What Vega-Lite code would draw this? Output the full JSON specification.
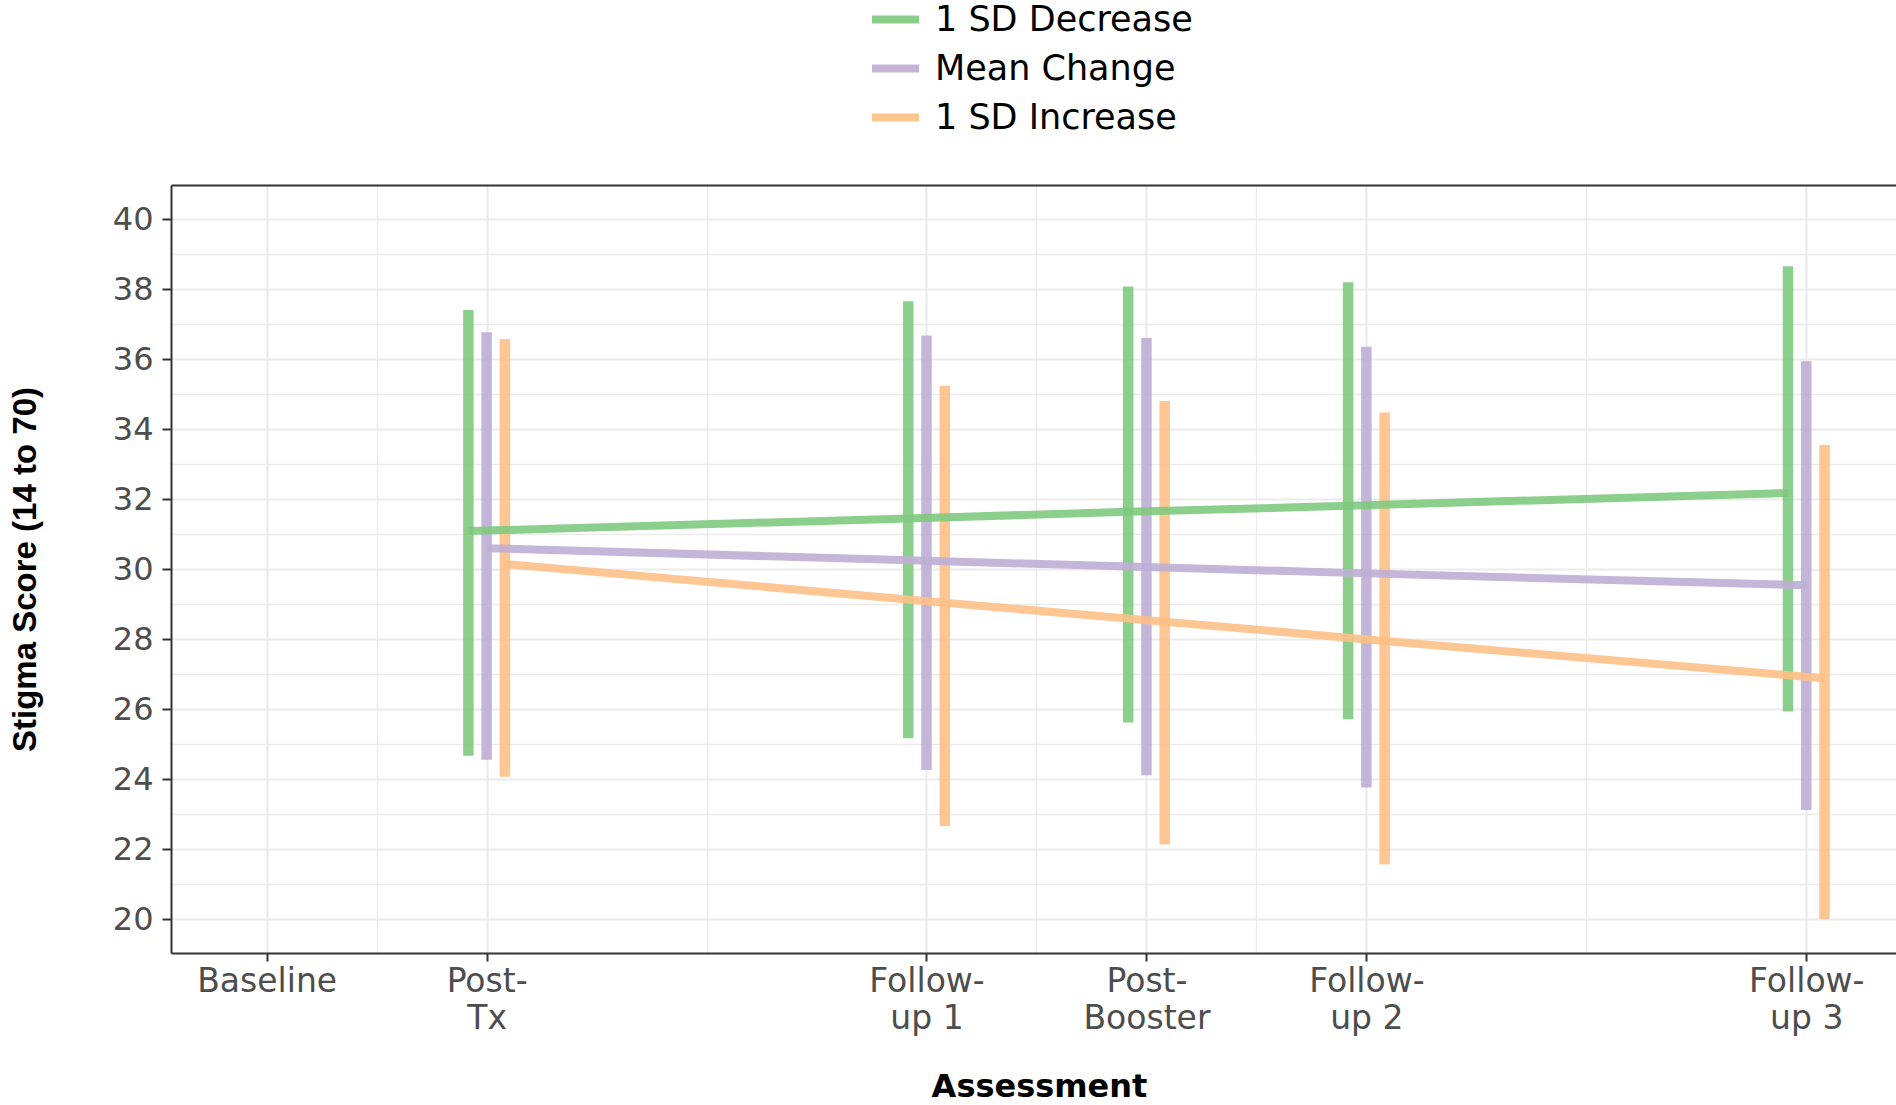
{
  "$schema": "https://vega.github.io/schema/vega-lite/v6.json",
  "width": 1725,
  "height": 768,
  "autosize": {"type": "none"},
  "padding": {"left": 171, "top": 185, "right": 0, "bottom": 152},
  "background": "white",
  "config": {"view": {"stroke": null}, "font": "DejaVu Sans"},
  "data": {"values": [
    {"time": 1, "group": "1 SD Decrease", "est": 31.09, "lo": 24.67, "hi": 37.41},
    {"time": 1, "group": "Mean Change", "est": 30.6, "lo": 24.55, "hi": 36.77},
    {"time": 1, "group": "1 SD Increase", "est": 30.15, "lo": 24.07, "hi": 36.58},
    {"time": 3, "group": "1 SD Decrease", "est": 31.45, "lo": 25.17, "hi": 37.66},
    {"time": 3, "group": "Mean Change", "est": 30.24, "lo": 24.26, "hi": 36.68},
    {"time": 3, "group": "1 SD Increase", "est": 29.04, "lo": 22.66, "hi": 35.24},
    {"time": 4, "group": "1 SD Decrease", "est": 31.64, "lo": 25.62, "hi": 38.08},
    {"time": 4, "group": "Mean Change", "est": 30.06, "lo": 24.11, "hi": 36.61},
    {"time": 4, "group": "1 SD Increase", "est": 28.5, "lo": 22.13, "hi": 34.81},
    {"time": 5, "group": "1 SD Decrease", "est": 31.81, "lo": 25.71, "hi": 38.2},
    {"time": 5, "group": "Mean Change", "est": 29.88, "lo": 23.76, "hi": 36.36},
    {"time": 5, "group": "1 SD Increase", "est": 27.95, "lo": 21.56, "hi": 34.48},
    {"time": 7, "group": "1 SD Decrease", "est": 32.18, "lo": 25.93, "hi": 38.66},
    {"time": 7, "group": "Mean Change", "est": 29.54, "lo": 23.12, "hi": 35.94},
    {"time": 7, "group": "1 SD Increase", "est": 26.88, "lo": 20.0, "hi": 33.55}
  ]},
  "transform": [
    {"calculate": "datum.time + (datum.group === '1 SD Decrease' ? -0.083 : (datum.group === '1 SD Increase' ? 0.083 : 0))", "as": "xpos"}
  ],
  "layer": [
    {
      "mark": {"type": "rule", "strokeWidth": 10.5, "strokeCap": "butt", "opacity": 0.9},
      "encoding": {
        "x": {
          "field": "xpos", "type": "quantitative",
          "scale": {"domain": [-0.435, 7.408], "nice": false, "zero": false},
          "axis": {
            "orient": "bottom",
            "values": [0, 1, 3, 4, 5, 7],
            "labelExpr": "datum.value == 0 ? 'Baseline' : datum.value == 1 ? ['Post-', 'Tx'] : datum.value == 3 ? ['Follow-', 'up 1'] : datum.value == 4 ? ['Post-', 'Booster'] : datum.value == 5 ? ['Follow-', 'up 2'] : ['Follow-', 'up 3']",
            "title": "Assessment",
            "grid": true, "gridColor": "#ebebeb", "gridWidth": 2.2,
            "domain": true, "domainColor": "#333333", "domainWidth": 2,
            "ticks": true, "tickSize": 8, "tickWidth": 2, "tickColor": "#333333",
            "labelFont": "DejaVu Sans", "labelFontSize": 33, "labelColor": "#4d4d4d",
            "labelPadding": 4.7, "labelBaseline": "top", "labelLineHeight": 37,
            "labelFlush": false, "labelOverlap": false, "labelBound": false,
            "titleFont": "DejaVu Sans", "titleFontWeight": "bold", "titleFontSize": 32, "titleColor": "black",
            "titleX": 868, "titleY": 143, "titleAlign": "center", "titleBaseline": "alphabetic"
          }
        },
        "y": {
          "field": "lo", "type": "quantitative",
          "scale": {"domain": [19.03, 40.98], "nice": false, "zero": false},
          "axis": {
            "orient": "left",
            "values": [20, 22, 24, 26, 28, 30, 32, 34, 36, 38, 40],
            "title": "Stigma Score (14 to 70)",
            "grid": true, "gridColor": "#ebebeb", "gridWidth": 2.2,
            "domain": true, "domainColor": "#333333", "domainWidth": 2,
            "ticks": true, "tickSize": 9, "tickWidth": 2, "tickColor": "#333333",
            "labelFont": "DejaVu Sans", "labelFontSize": 32, "labelColor": "#4d4d4d", "labelPadding": 9,
            "labelBaseline": "middle",
            "titleFont": "Liberation Sans", "titleFontWeight": "bold", "titleFontSize": 33, "titleColor": "black",
            "titleAngle": 270, "titleX": -136, "titleY": 384, "titleAlign": "center", "titleBaseline": "alphabetic"
          }
        },
        "y2": {"field": "hi"},
        "color": {
          "field": "group", "type": "nominal",
          "scale": {"domain": ["1 SD Decrease", "Mean Change", "1 SD Increase"], "range": ["#7fc97f", "#beaed4", "#fdc086"]},
          "legend": {
            "title": null, "orient": "none", "legendX": 697, "legendY": -193, "direction": "vertical",
            "symbolType": "stroke", "symbolSize": 2209, "symbolStrokeWidth": 8, "symbolOpacity": 0.9,
            "labelFont": "DejaVu Sans", "labelFontSize": 35, "labelColor": "black", "labelOffset": 12,
            "labelLimit": 0, "rowPadding": 3, "padding": 0
          }
        }
      }
    },
    {
      "mark": {"type": "line", "strokeWidth": 8, "strokeCap": "butt", "opacity": 0.9},
      "encoding": {
        "x": {
          "field": "xpos", "type": "quantitative",
          "axis": {
            "orient": "top", "values": [0.5, 2, 3.5, 4.5, 6],
            "grid": true, "gridColor": "#ebebeb", "gridWidth": 1.3,
            "labels": false, "ticks": false, "title": null,
            "domain": true, "domainColor": "#333333", "domainWidth": 2
          }
        },
        "y": {
          "field": "est", "type": "quantitative",
          "axis": {
            "orient": "right", "values": [21, 23, 25, 27, 29, 31, 33, 35, 37, 39],
            "grid": true, "gridColor": "#ebebeb", "gridWidth": 1.3,
            "labels": false, "ticks": false, "title": null, "domain": false
          }
        },
        "color": {"field": "group", "type": "nominal"}
      }
    }
  ],
  "resolve": {"axis": {"x": "independent", "y": "independent"}}
}
